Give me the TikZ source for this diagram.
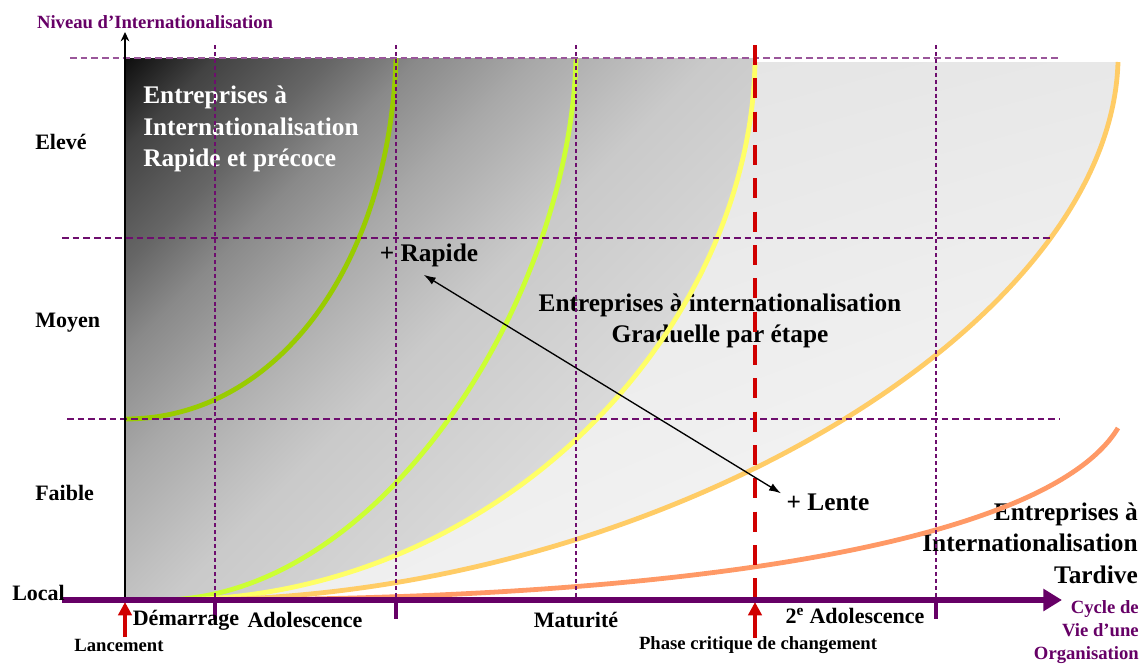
\documentclass[tikz,border=0pt]{standalone}
\usepackage{fontspec}
\setmainfont{Liberation Serif}
\usetikzlibrary{arrows.meta,shadings}

\definecolor{axispurple}{HTML}{660066}
\definecolor{gridpurple}{HTML}{6E0E6E}
\definecolor{critred}{HTML}{D00000}
\definecolor{fastgreen}{HTML}{99CC00}
\definecolor{curvelime}{HTML}{CCFF33}
\definecolor{curveyellow}{HTML}{FFFF66}
\definecolor{curvegold}{HTML}{FFCC66}
\definecolor{curveorange}{HTML}{FF9966}

\pgfdeclarehorizontalshading{darkcorner}{100bp}{color(0bp)=(black!94); color(14.6bp)=(black!94);
  color(19.9bp)=(black!74); color(27bp)=(black!60); color(32.3bp)=(black!46);
  color(39.4bp)=(black!34); color(46.5bp)=(black!25); color(50bp)=(black!21);
  color(64.1bp)=(black!15); color(85.4bp)=(black!11); color(100bp)=(black!11)}

\begin{document}
\begin{tikzpicture}[x=0.75pt,y=-0.75pt,
    big/.style={font=\bfseries\fontsize{19}{23.5}\selectfont,inner sep=0pt},
    lbl/.style={font=\bfseries\fontsize{16.5}{20}\selectfont,inner sep=0pt},
    small/.style={font=\bfseries\fontsize{14}{17}\selectfont,inner sep=0pt},
    curve/.style={line width=3.6pt},
    hgrid/.style={gridpurple,line width=1pt,dash pattern=on 5pt off 3pt},
    vgrid/.style={gridpurple,line width=1pt,dash pattern=on 3pt off 2.2pt}]
    \useasboundingbox (0,0) rectangle (1142,664);

    % zones
    \shade[shading=darkcorner,shading angle=-45] (125,600) -- (125,58) -- (755,58) -- (755,62)
        .. controls (750,330) and (500,600) .. (170,600) -- cycle;
    \shade[upper left=black!12,upper right=black!9,lower left=black!7,lower right=black!2]
        (170,600) .. controls (500,600) and (750,330) .. (755,62) -- (1118,62)
        .. controls (1110,330) and (650,600) .. (190,600) -- cycle;

    % texts
    \node[big,white,align=left,anchor=west] (rapidzone) at (143,129) {Entreprises à\\Internationalisation\\Rapide et précoce};
    \node[big,align=center] (gradzone) at (720,321) {Entreprises à internationalisation\\Graduelle par étape};
    \node[big,align=right,anchor=east] (latezone) at (1138,543) {Entreprises à\\Internationalisation\\Tardive};
    \node[big] (rapide) at (429,255) {+ Rapide};
    \node[big] (lente) at (828,502) {+ Lente};

    % curves
    \draw[curve,fastgreen] (125,419) .. controls (280,419) and (390,260) .. (396,58);
    \draw[curve,curvelime] (160,600) .. controls (380,600) and (570,300) .. (576,58);
    \draw[curve,curveyellow] (170,600) .. controls (500,600) and (750,330) .. (755,62);
    \draw[curve,curvegold] (190,600) .. controls (650,600) and (1110,330) .. (1118,62);
    \draw[curve,curveorange] (200,600) .. controls (700,600) and (1050,540) .. (1118,428);

    % grid
    \draw[hgrid,gridpurple!70] (70,58) -- (1060,58);
    \draw[hgrid] (62,238) -- (1052,238);
    \draw[hgrid] (67,419) -- (1060,419);
    \foreach \gx in {215,396,576,936}
        \draw[vgrid] (\gx,45) -- (\gx,600);
    \draw[critred,line width=3.4pt,dash pattern=on 15pt off 10pt] (755,45) -- (755,600);

    % axes
    \draw[line width=1pt,-{Stealth[length=7pt,width=6.5pt]}] (125,600) -- (125,32);
    \foreach \gx in {215,396,936}
        \draw[axispurple,line width=2.3pt] (\gx,600) -- (\gx,619);
    \draw[critred,line width=3pt,-{Triangle[length=10pt,width=10pt]}] (125,637) -- (125,602);
    \draw[critred,line width=3pt,-{Triangle[length=10pt,width=10pt]}] (755,638) -- (755,602);
    \draw[axispurple,line width=4.5pt,-{Triangle[length=14pt,width=16pt]}] (62,600) -- (1062,600);

    \draw[line width=1pt,{Latex[length=9pt,width=6pt]}-{Latex[length=9pt,width=6pt]}] ([xshift=-4pt,yshift=-6pt]rapide.south) -- ([xshift=-4pt]lente.north west);

    % labels
    \node[small,axispurple] (niveau) at (155,22) {Niveau d’Internationalisation};
    \node[lbl,anchor=west] (eleve) at (35,142) {Elevé};
    \node[lbl,anchor=west] (moyen) at (35,323) {Moyen};
    \node[lbl,anchor=west] (faible) at (35,493) {Faible};
    \node[lbl,anchor=west] (local) at (12,593) {Local};
    \node[lbl] (demarrage) at (186,620) {Démarrage};
    \node[lbl] (adolescence) at (305,620) {Adolescence};
    \node[lbl] (maturite) at (576,620) {Maturité};
    \node[lbl] (second) at (855,616) {2\textsuperscript{e} Adolescence};
    \node[small] (lancement) at (119,645) {Lancement};
    \node[small] (phase) at (758,645) {Phase critique de changement};
    \node[small,axispurple,align=right,anchor=east] (cycle) at (1139,632) {Cycle de\\Vie d’une\\Organisation};
\end{tikzpicture}
\end{document}
